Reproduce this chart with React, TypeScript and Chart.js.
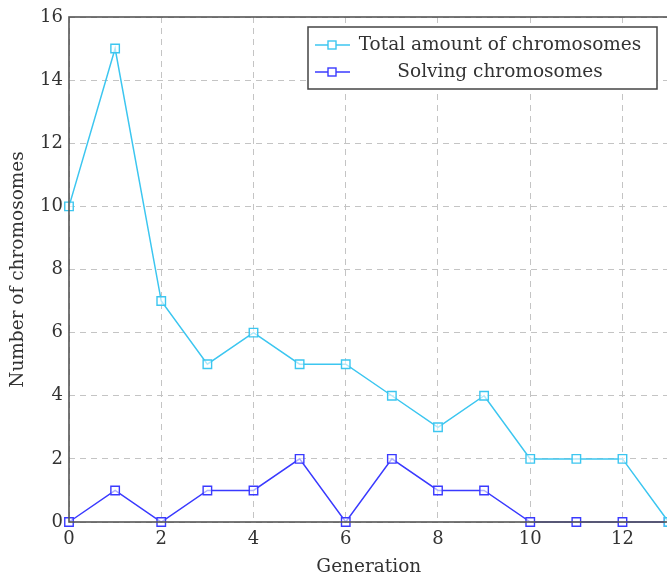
import React, { useEffect, useRef } from "react";
import { Chart, registerables } from "chart.js";

Chart.register(...registerables);

const generations = [0, 1, 2, 3, 4, 5, 6, 7, 8, 9, 10, 11, 12, 13];
const totalChromosomes = [10, 15, 7, 5, 6, 5, 5, 4, 3, 4, 2, 2, 2, 0];
const solvingChromosomes = [0, 1, 0, 1, 1, 2, 0, 2, 1, 1, 0, 0, 0, 0];
const xTickValues = [0, 2, 4, 6, 8, 10, 12];
const yTickValues = [0, 2, 4, 6, 8, 10, 12, 14, 16];
const seriesNames = ["Total amount of chromosomes", "Solving chromosomes"];
const xTitle = "Generation";
const yTitle = "Number of chromosomes";

const CYAN = "#3cc6f0";
const BLUE = "#3a3aff";
const FONT = "'DejaVu Serif', 'Liberation Serif', serif";
const CANVAS_W = 676;

const framePlugin = {
  id: "frameAndLegend",
  afterDatasetsDraw(chart: any) {
    const { ctx, chartArea } = chart;
    ctx.save();
    // frame
    ctx.strokeStyle = "#555";
    ctx.lineWidth = 1.6;
    ctx.strokeRect(chartArea.left, chartArea.top, chartArea.right - chartArea.left, chartArea.bottom - chartArea.top);

    // titles
    ctx.fillStyle = "#333";
    ctx.font = `18.5px ${FONT}`;
    ctx.textAlign = "center";
    ctx.textBaseline = "middle";
    ctx.fillText(xTitle, (chartArea.left + chartArea.right) / 2, 567);
    ctx.save();
    ctx.translate(18, (chartArea.top + chartArea.bottom) / 2);
    ctx.rotate(-Math.PI / 2);
    ctx.fillText(yTitle, 0, 0);
    ctx.restore();

    // legend
    const bx = 308, by = 27, bw = 349, bh = 62;
    ctx.fillStyle = "#fff";
    ctx.fillRect(bx, by, bw, bh);
    ctx.strokeStyle = "#444";
    ctx.lineWidth = 1.5;
    ctx.strokeRect(bx, by, bw, bh);
    const rows = [
      { name: seriesNames[0], color: CYAN, y: 45 },
      { name: seriesNames[1], color: BLUE, y: 72 },
    ];
    rows.forEach((r) => {
      ctx.strokeStyle = r.color;
      ctx.lineWidth = 1.4;
      ctx.beginPath();
      ctx.moveTo(315, r.y);
      ctx.lineTo(350, r.y);
      ctx.stroke();
      ctx.fillStyle = "#fff";
      ctx.fillRect(328, r.y - 4, 8, 8);
      ctx.strokeRect(328, r.y - 4, 8, 8);
      ctx.fillStyle = "#333";
      ctx.font = `18.5px ${FONT}`;
      ctx.textAlign = "center";
      ctx.textBaseline = "middle";
      ctx.fillText(r.name, 500, r.y);
    });
    ctx.restore();
  },
};

export default function App() {
  const ref = useRef<HTMLCanvasElement>(null);
  useEffect(() => {
    const canvas = ref.current!;
    const mkDataset = (name: string, values: number[], color: string) => ({
      label: name,
      data: generations.map((g, i) => ({ x: g, y: values[i] })),
      borderColor: color,
      backgroundColor: "#fff",
      borderWidth: 1.5,
      pointStyle: "rect",
      pointRadius: 6,
      pointBorderWidth: 1.4,
      pointBorderColor: color,
      pointBackgroundColor: "rgba(255,255,255,0.6)",
      tension: 0,
      clip: 10,
    });
    const chart = new Chart(canvas, {
      type: "line",
      data: {
        labels: generations,
        datasets: [
          mkDataset(seriesNames[0], totalChromosomes, CYAN),
          mkDataset(seriesNames[1], solvingChromosomes, BLUE),
        ],
      },
      options: {
        animation: false,
        responsive: false,
        maintainAspectRatio: false,
        layout: { padding: { top: 17, right: 0, left: 0, bottom: 0 } },
        plugins: { legend: { display: false }, tooltip: { enabled: false } },
        scales: {
          x: {
            type: "linear",
            min: 0,
            max: 13,
            afterBuildTicks: (axis: any) => {
              axis.ticks = xTickValues.map((v) => ({ value: v }));
            },
            afterFit: (axis: any) => {
              axis.height = 54;
              axis.paddingRight = 0;
              axis.paddingLeft = 0;
            },
            grid: { color: "#c4c4c4", lineWidth: 1, drawTicks: false },
            border: { display: false, dash: [6, 5] },
            ticks: {
              color: "#333",
              font: { family: FONT, size: 18 },
              padding: 7,
              maxRotation: 0,
              autoSkip: false,
            },
          },
          y: {
            type: "linear",
            min: 0,
            max: 16,
            afterBuildTicks: (axis: any) => {
              axis.ticks = yTickValues.map((v) => ({ value: v }));
            },
            afterFit: (axis: any) => {
              axis.width = 69;
              axis.paddingTop = 0;
              axis.paddingBottom = 0;
            },
            grid: { color: "#c4c4c4", lineWidth: 1, drawTicks: false },
            border: { display: false, dash: [6, 5] },
            ticks: {
              color: "#333",
              font: { family: FONT, size: 18 },
              padding: 6,
              autoSkip: false,
            },
          },
        },
      },
      plugins: [framePlugin],
    });
    return () => chart.destroy();
  }, []);
  return (
    <div style={{ position: "fixed", left: 0, top: 0, width: 667, height: 576, overflow: "hidden", background: "#fff" }}>
      <canvas ref={ref} width={CANVAS_W} height={576} style={{ display: "block", width: CANVAS_W, height: 576 }} />
    </div>
  );
}
